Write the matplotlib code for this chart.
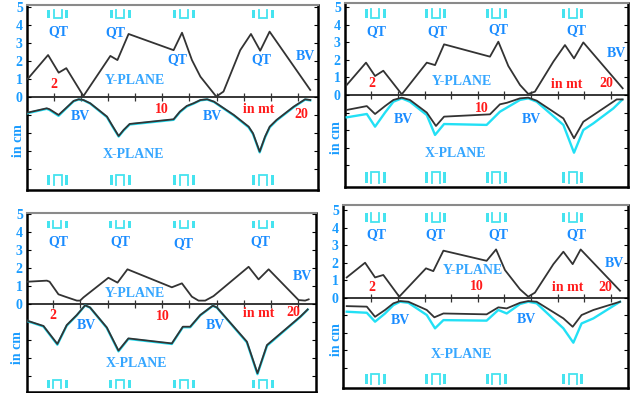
import matplotlib.pyplot as plt
from matplotlib.patches import Rectangle

# ---- panel 1 (top left) ----
p1_yx = [0.1, 1.6, 2.38, 2.94, 4.2, 6.18, 6.7, 7.52, 10.83, 11.45, 12.18, 12.8, 13.97, 14.5,
         15.73, 16.52, 17.2, 17.89, 20.88]
p1_yy = [1.0, 2.33, 1.35, 1.6, 0.05, 2.28, 2.05, 3.5, 2.6, 3.57, 2.05, 1.13, 0.02, 0.3,
         2.6, 3.5, 2.57, 3.63, 0.39]
p1_xx = [0.1, 1.5, 1.7, 2.37, 2.9, 3.48, 3.85, 4.2, 4.7, 5.93, 6.3, 6.79, 7.16, 7.6, 10.83,
         11.3, 11.8, 12.3, 12.8, 13.3, 13.8, 15.26, 16.35, 16.67, 17.16, 17.56, 17.9, 18.4,
         19.66, 20.5, 20.88]
p1_xy = [-0.87, -0.63, -0.68, -1.0, -0.63, -0.22, -0.13, -0.17, -0.35, -1.09, -1.56, -2.17,
         -1.83, -1.5, -1.24, -0.81, -0.5, -0.35, -0.17, -0.13, -0.26, -1.0, -1.65, -2.02,
         -3.04, -2.2, -1.65, -1.28, -0.54, -0.13, -0.17]
p1_cy = [-0.9, -0.66, -0.72, -1.05, -0.66, -0.24, -0.14, -0.18, -0.37, -1.12, -1.6, -2.2,
         -1.86, -1.53, -1.27, -0.84, -0.53, -0.37, -0.19, -0.14, -0.28, -1.03, -1.69, -2.06,
         -3.08, -2.24, -1.69, -1.31, -0.57, -0.15, -0.19]

# ---- panel 2 (top right) ----
p2_yx = [0.15, 1.6, 2.28, 2.9, 4.29, 6.17, 6.79, 7.47, 10.92, 11.55, 12.3, 13.18, 13.8, 14.3,
         15.69, 16.56, 17.24, 17.94, 20.9]
p2_yy = [0.57, 1.84, 1.08, 1.38, 0.04, 1.84, 1.7, 2.88, 2.18, 3.03, 1.65, 0.57, 0.06, 0.19,
         1.9, 2.84, 2.08, 2.99, 0.38]
p2_xx = [0.15, 1.66, 2.28, 3.03, 3.66, 4.29, 4.9, 6.17, 6.86, 7.47, 10.92, 11.67, 12.2, 13.18,
         13.8, 14.43, 16.44, 17.24, 17.94, 18.7, 20.45, 20.9]
p2_xy = [-0.85, -0.63, -1.08, -0.63, -0.28, -0.15, -0.28, -1.0, -1.76, -1.23, -1.1, -0.53,
         -0.44, -0.19, -0.15, -0.32, -1.33, -2.46, -1.52, -1.14, -0.25, -0.25]
p2_cx = [0.15, 1.66, 2.28, 3.03, 3.66, 4.29, 4.9, 6.17, 6.79, 7.47, 10.67, 11.67, 13.18,
         13.8, 14.43, 16.44, 17.24, 17.94, 18.7, 20.2, 20.85]
p2_cy = [-1.27, -1.08, -1.8, -1.0, -0.38, -0.19, -0.38, -1.14, -2.27, -1.65, -1.7, -0.95,
         -0.28, -0.19, -0.38, -1.7, -3.28, -1.99, -1.61, -0.76, -0.28]

# ---- panel 3 (bottom left) ----
p3_yx = [0.1, 1.53, 1.73, 2.38, 2.87, 3.73, 3.97, 4.22, 6.05, 6.72, 7.45, 10.71, 11.45, 12.18,
         12.67, 13.16, 13.77, 16.35, 17.08, 17.82, 20.02, 20.5, 20.76]
p3_yy = [1.24, 1.3, 1.24, 0.54, 0.41, 0.19, 0.19, 0.37, 1.46, 1.19, 1.93, 0.93, 1.15, 0.41,
         0.19, 0.19, 0.44, 2.07, 1.37, 1.93, 0.22, 0.19, 0.26]
p3_xx = [0.1, 1.28, 2.3, 2.99, 3.73, 4.34, 4.7, 5.93, 6.79, 7.52, 10.71, 11.52, 12.06, 12.8,
         13.72, 14.02, 16.22, 17.0, 17.7, 20.15, 20.69]
p3_xy = [-0.93, -1.22, -2.22, -1.17, -0.61, -0.07, -0.19, -1.3, -2.59, -1.91, -2.19, -1.26,
         -1.26, -0.61, -0.09, -0.19, -2.09, -3.85, -2.28, -0.7, -0.3]
p3_cy = [-0.95, -1.25, -2.26, -1.2, -0.63, -0.08, -0.2, -1.33, -2.63, -1.94, -2.22, -1.29,
         -1.29, -0.63, -0.1, -0.2, -2.13, -3.9, -2.32, -0.72, -0.31]

# ---- panel 4 (bottom right) ----
p4_yx = [0.15, 1.53, 2.28, 2.9, 4.1, 6.11, 6.66, 7.42, 10.67, 11.38, 12.05, 13.18, 13.8, 14.3,
         15.69, 16.44, 17.14, 17.74, 20.7]
p4_yy = [1.16, 2.0, 1.16, 1.3, 0.06, 1.68, 1.52, 2.69, 2.11, 2.76, 1.58, 0.48, 0.06, 0.29,
         1.92, 2.63, 1.92, 2.76, 0.4]
p4_xx = [0.15, 1.66, 2.28, 3.03, 3.66, 4.16, 4.79, 6.17, 6.74, 7.42, 10.67, 11.55, 12.18,
         13.18, 13.8, 14.43, 16.44, 17.14, 17.81, 18.7, 20.7]
p4_xy = [-0.48, -0.51, -1.09, -0.7, -0.32, -0.19, -0.23, -0.7, -1.12, -0.9, -0.95, -0.55,
         -0.61, -0.29, -0.19, -0.23, -1.18, -1.66, -0.99, -0.7, -0.23]
p4_cx = [0.15, 1.66, 2.28, 3.03, 3.66, 4.16, 4.79, 6.17, 6.79, 7.42, 10.67, 11.55, 12.18,
         13.18, 13.8, 14.43, 16.44, 17.19, 17.81, 18.7, 20.7]
p4_cy = [-0.8, -0.86, -1.37, -0.9, -0.42, -0.23, -0.29, -0.99, -1.75, -1.28, -1.31, -0.7,
         -0.9, -0.36, -0.23, -0.32, -1.75, -2.57, -1.47, -1.18, -0.23]

# quadrupole triplet centres (m)
qt_left = [2.3, 6.9, 11.6, 17.4]
qt_right = [2.3, 6.85, 11.4, 17.15]

# labels: (text, x, y, kind)
p1_labels = [('QT', 2.38, 3.63, 'qt'), ('QT', 6.54, 3.59, 'qt'), ('QT', 11.08, 2.05, 'qt'),
             ('QT', 17.3, 2.05, 'qt'), ('BV', 20.5, 2.24, 'qt'), ('2', 2.0, 0.67, 'red'),
             ('Y-PLANE', 8.0, 0.89, 'plane'), ('BV', 3.97, -1.09, 'qt'), ('10', 9.97, -0.72, 'red'),
             ('BV', 13.65, -1.09, 'qt'), ('in mt', 17.08, -0.69, 'red'), ('20', 20.2, -1.0, 'red'),
             ('X-PLANE', 7.9, -3.22, 'plane')]
p2_labels = [('QT', 2.35, 3.6, 'qt'), ('QT', 6.96, 3.6, 'qt'), ('QT', 11.55, 3.73, 'qt'),
             ('QT', 17.4, 3.65, 'qt'), ('BV', 20.45, 2.37, 'qt'), ('2', 2.03, 0.63, 'red'),
             ('Y-PLANE', 8.8, 0.76, 'plane'), ('in mt', 16.7, 0.57, 'red'), ('20', 19.64, 0.63, 'red'),
             ('10', 10.3, -0.76, 'red'), ('BV', 4.4, -1.38, 'qt'), ('BV', 14.06, -1.38, 'qt'),
             ('X-PLANE', 8.3, -3.3, 'plane')]
p3_labels = [('QT', 2.38, 3.46, 'qt'), ('QT', 6.9, 3.46, 'qt'), ('QT', 11.57, 3.37, 'qt'),
             ('QT', 17.2, 3.46, 'qt'), ('BV', 20.27, 1.52, 'qt'), ('Y-PLANE', 8.0, 0.59, 'plane'),
             ('2', 1.97, -0.61, 'red'), ('10', 10.05, -0.7, 'red'), ('in mt', 17.08, -0.52, 'red'),
             ('20', 19.66, -0.48, 'red'), ('BV', 4.46, -1.17, 'qt'), ('BV', 13.9, -1.17, 'qt'),
             ('X-PLANE', 8.14, -3.3, 'plane')]
p4_labels = [('QT', 2.35, 3.58, 'qt'), ('QT', 6.79, 3.58, 'qt'), ('QT', 11.55, 3.58, 'qt'),
             ('QT', 17.44, 3.58, 'qt'), ('BV', 20.3, 1.96, 'qt'), ('Y-PLANE', 9.67, 1.58, 'plane'),
             ('2', 2.03, 0.59, 'red'), ('10', 9.9, 0.67, 'red'), ('in mt', 16.8, 0.59, 'red'),
             ('20', 19.6, 0.59, 'red'), ('BV', 4.16, -1.28, 'qt'), ('BV', 13.68, -1.24, 'qt'),
             ('X-PLANE', 8.8, -3.22, 'plane')]

COLORS = {'qt': '#1a8cff', 'plane': '#35a6ff', 'red': '#ff1a1a'}
CYAN = '#22e0f5'
MAG = '#45e3ef'
FONT = 'Liberation Serif'

W, H = 630, 393


def add_panel(fig, box):
    l, t, r, b = box
    return fig.add_axes([l / W, 1 - b / H, (r - l) / W, (b - t) / H])


def draw_triplet(ax, c, y0, y1, top):
    for xs in (c - 0.78, c + 0.56):
        ax.add_patch(Rectangle((xs, y0), 0.22, y1 - y0, facecolor=MAG, edgecolor='none'))
    if top:
        ux, uy = [c - 0.3, c - 0.3, c + 0.3, c + 0.3], [y1, y0, y0, y1]
    else:
        ux, uy = [c - 0.3, c - 0.3, c + 0.3, c + 0.3], [y0, y1, y1, y0]
    ax.plot(ux, uy, color=MAG, lw=1.3, solid_joinstyle='miter')


def draw_panel(ax, yx, yy, xx, xy, cx, cy, labels, qts, xlim, ylim, mag_top, mag_bot):
    ax.set_xlim(*xlim)
    ax.set_ylim(*ylim)
    ax.axhline(0, color='black', lw=1.1, zorder=2)
    ticks = list(range(2, 21, 2))
    ax.plot(ticks, [0] * len(ticks), ls='none', marker='|', ms=6, mew=0.9, color='#333333')

    ax.plot(cx, cy, color=CYAN, lw=1.7, zorder=3)
    ax.plot(xx, xy, color='#333333', lw=1.3, zorder=4)
    ax.plot(yx, yy, color='#333333', lw=1.3, zorder=4)

    for c in qts:
        draw_triplet(ax, c, mag_top[0], mag_top[1], True)
        draw_triplet(ax, c, mag_bot[0], mag_bot[1], False)

    for txt, x, y, kind in labels:
        ax.text(x, y, txt, color=COLORS[kind], fontsize=10, fontweight='bold', family=FONT,
                ha='center', va='center', zorder=5)

    ax.text(-0.6, -2.4, 'in cm', rotation=90, color='#1a9cff', fontsize=10, fontweight='bold',
            family=FONT, ha='center', va='center', clip_on=False)

    ax.set_xticks([])
    ax.set_yticks(range(-4, 6))
    ax.set_yticklabels([''] * 4 + [str(i) for i in range(6)])
    ax.tick_params(axis='y', direction='in', left=True, right=True, length=3, width=0.8,
                   pad=3, labelcolor='#1a9cff', labelsize=10)
    for lab in ax.get_yticklabels():
        lab.set_fontfamily(FONT)
        lab.set_fontweight('bold')

    for side in ('left', 'bottom', 'right'):
        ax.spines[side].set_color('black')
        ax.spines[side].set_linewidth(1.8)
    ax.spines['top'].set_color('#8a8a8a')
    ax.spines['top'].set_linewidth(1.5)


def main():
    fig = plt.figure(figsize=(W / 100, H / 100), dpi=100)

    ax1 = add_panel(fig, (27, 5, 318, 190))
    draw_panel(ax1, p1_yx, p1_yy, p1_xx, p1_xy, p1_xx, p1_cy, p1_labels, qt_left,
               (0.05, 21.45), (-5.17, 5.11), (4.37, 4.85), (-4.89, -4.33))

    ax2 = add_panel(fig, (345, 3, 628, 187))
    draw_panel(ax2, p2_yx, p2_yy, p2_xx, p2_xy, p2_cx, p2_cy, p2_labels, qt_right,
               (0.02, 21.3), (-5.23, 5.23), (4.4, 4.9), (-5.0, -4.4))

    ax3 = add_panel(fig, (27, 213, 316, 392))
    draw_panel(ax3, p3_yx, p3_yy, p3_xx, p3_xy, p3_xx, p3_cy, p3_labels, qt_left,
               (0.07, 21.3), (-4.89, 5.06), (4.2, 4.63), (-4.69, -4.22))

    ax4 = add_panel(fig, (343, 205, 628, 388))
    draw_panel(ax4, p4_yx, p4_yy, p4_xx, p4_xy, p4_cx, p4_cy, p4_labels, qt_right,
               (-0.13, 21.3), (-5.16, 5.3), (4.34, 4.82), (-4.93, -4.36))

    fig.savefig('out.png', dpi=100)


if __name__ == '__main__':
    main()
